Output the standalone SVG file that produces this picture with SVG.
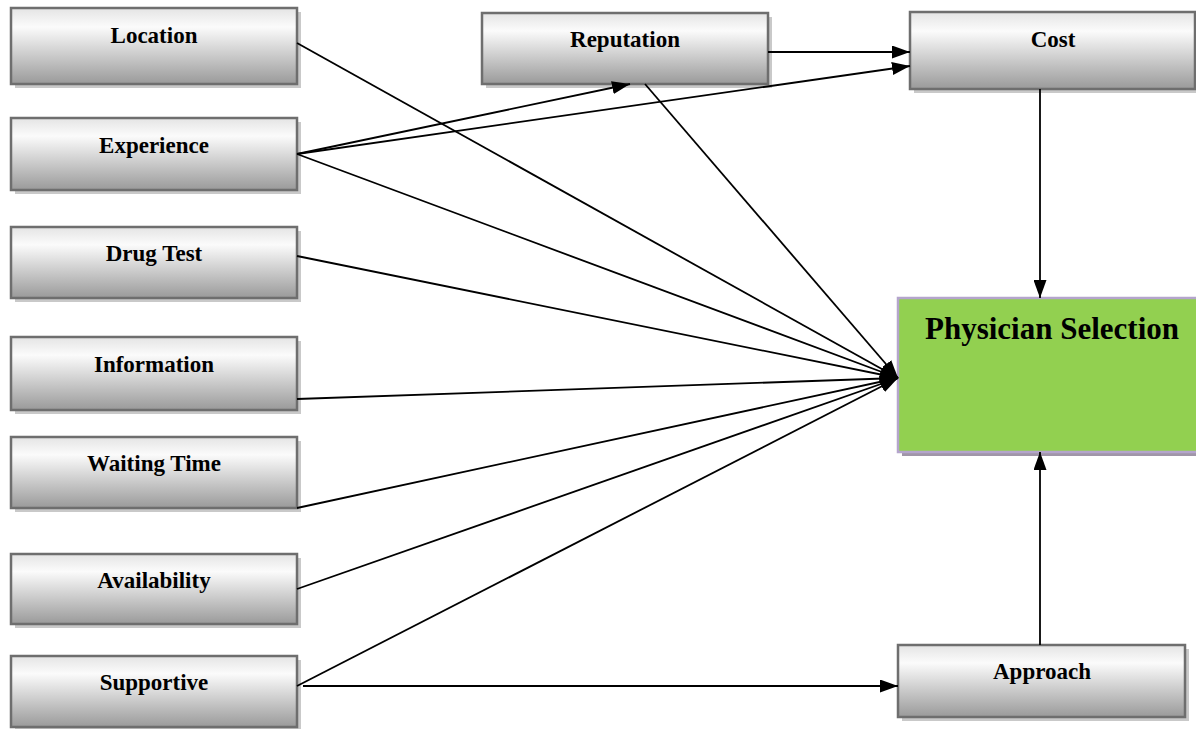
<svg xmlns="http://www.w3.org/2000/svg" width="1196" height="729" viewBox="0 0 1196 729">
<defs>
<linearGradient id="g" x1="0" y1="0" x2="0" y2="1">
<stop offset="0" stop-color="#e4e4e4"/>
<stop offset="0.25" stop-color="#fbfbfb"/>
<stop offset="1" stop-color="#9a9a9a"/>
</linearGradient>
<marker id="ah" viewBox="0 0 18 13" refX="18" refY="6.5" markerWidth="18" markerHeight="13" markerUnits="userSpaceOnUse" orient="auto">
<path d="M0,0 L18,6.5 L0,13 Z" fill="#000"/>
</marker>
<style>
.sh{fill:#c9c9c9}
.bx{fill:url(#g);stroke:#6e6e6e;stroke-width:2.5}
.t{font-family:"Liberation Serif","Times New Roman",serif;font-weight:bold;font-size:23px;fill:#000;text-anchor:middle}
.c line{stroke:#000;stroke-width:1.8;marker-end:url(#ah)}
</style>
</defs>
<rect width="1196" height="729" fill="#fff"/>

<g id="location"><rect class="sh" x="15" y="12" width="286" height="76"/><rect class="bx" x="11" y="8" width="286" height="76"/><text class="t" x="154" y="43">Location</text></g>
<g id="experience"><rect class="sh" x="15" y="122" width="286" height="72"/><rect class="bx" x="11" y="118" width="286" height="72"/><text class="t" x="154" y="153">Experience</text></g>
<g id="drugtest"><rect class="sh" x="15" y="231" width="286" height="71"/><rect class="bx" x="11" y="227" width="286" height="71"/><text class="t" x="154" y="261">Drug Test</text></g>
<g id="information"><rect class="sh" x="15" y="341" width="286" height="73"/><rect class="bx" x="11" y="337" width="286" height="73"/><text class="t" x="154" y="372">Information</text></g>
<g id="waitingtime"><rect class="sh" x="15" y="441" width="286" height="71"/><rect class="bx" x="11" y="437" width="286" height="71"/><text class="t" x="154" y="471">Waiting Time</text></g>
<g id="availability"><rect class="sh" x="15" y="558" width="286" height="70"/><rect class="bx" x="11" y="554" width="286" height="70"/><text class="t" x="154" y="588">Availability</text></g>
<g id="supportive"><rect class="sh" x="15" y="660" width="286" height="71"/><rect class="bx" x="11" y="656" width="286" height="71"/><text class="t" x="154" y="690">Supportive</text></g>
<g id="reputation"><rect class="sh" x="486" y="17" width="286" height="71"/><rect class="bx" x="482" y="13" width="286" height="71"/><text class="t" x="625" y="47">Reputation</text></g>
<g id="cost"><rect class="sh" x="914" y="16" width="285" height="77"/><rect class="bx" x="910" y="12" width="285" height="77"/><text class="t" x="1053" y="47">Cost</text></g>
<g id="approach"><rect class="sh" x="902" y="649" width="287" height="72"/><rect class="bx" x="898" y="645" width="287" height="72"/><text class="t" x="1042" y="679">Approach</text></g>
<g id="physician"><rect x="902" y="302" width="298" height="154" fill="#a096a8"/><rect x="898" y="298" width="300" height="154" fill="#92d050" stroke="#b4a5cc" stroke-width="2.5"/><text class="t" x="1052" y="339" style="font-size:31px">Physician Selection</text></g>

<g class="c" id="connectors">
<line x1="297" y1="43" x2="898" y2="378"/>
<line x1="297" y1="154" x2="630" y2="84"/>
<line x1="297" y1="154" x2="910" y2="66"/>
<line x1="297" y1="154" x2="898" y2="378"/>
<line x1="645" y1="84" x2="898" y2="378"/>
<line x1="768" y1="52" x2="910" y2="52"/>
<line x1="297" y1="256" x2="898" y2="378"/>
<line x1="297" y1="399" x2="898" y2="378"/>
<line x1="297" y1="508" x2="898" y2="378"/>
<line x1="297" y1="589" x2="898" y2="378"/>
<line x1="297" y1="686" x2="898" y2="378"/>
<line x1="303" y1="686" x2="898" y2="686"/>
<line x1="1040" y1="89" x2="1040" y2="298"/>
<line x1="1040" y1="645" x2="1040" y2="452"/>
</g>
</svg>
